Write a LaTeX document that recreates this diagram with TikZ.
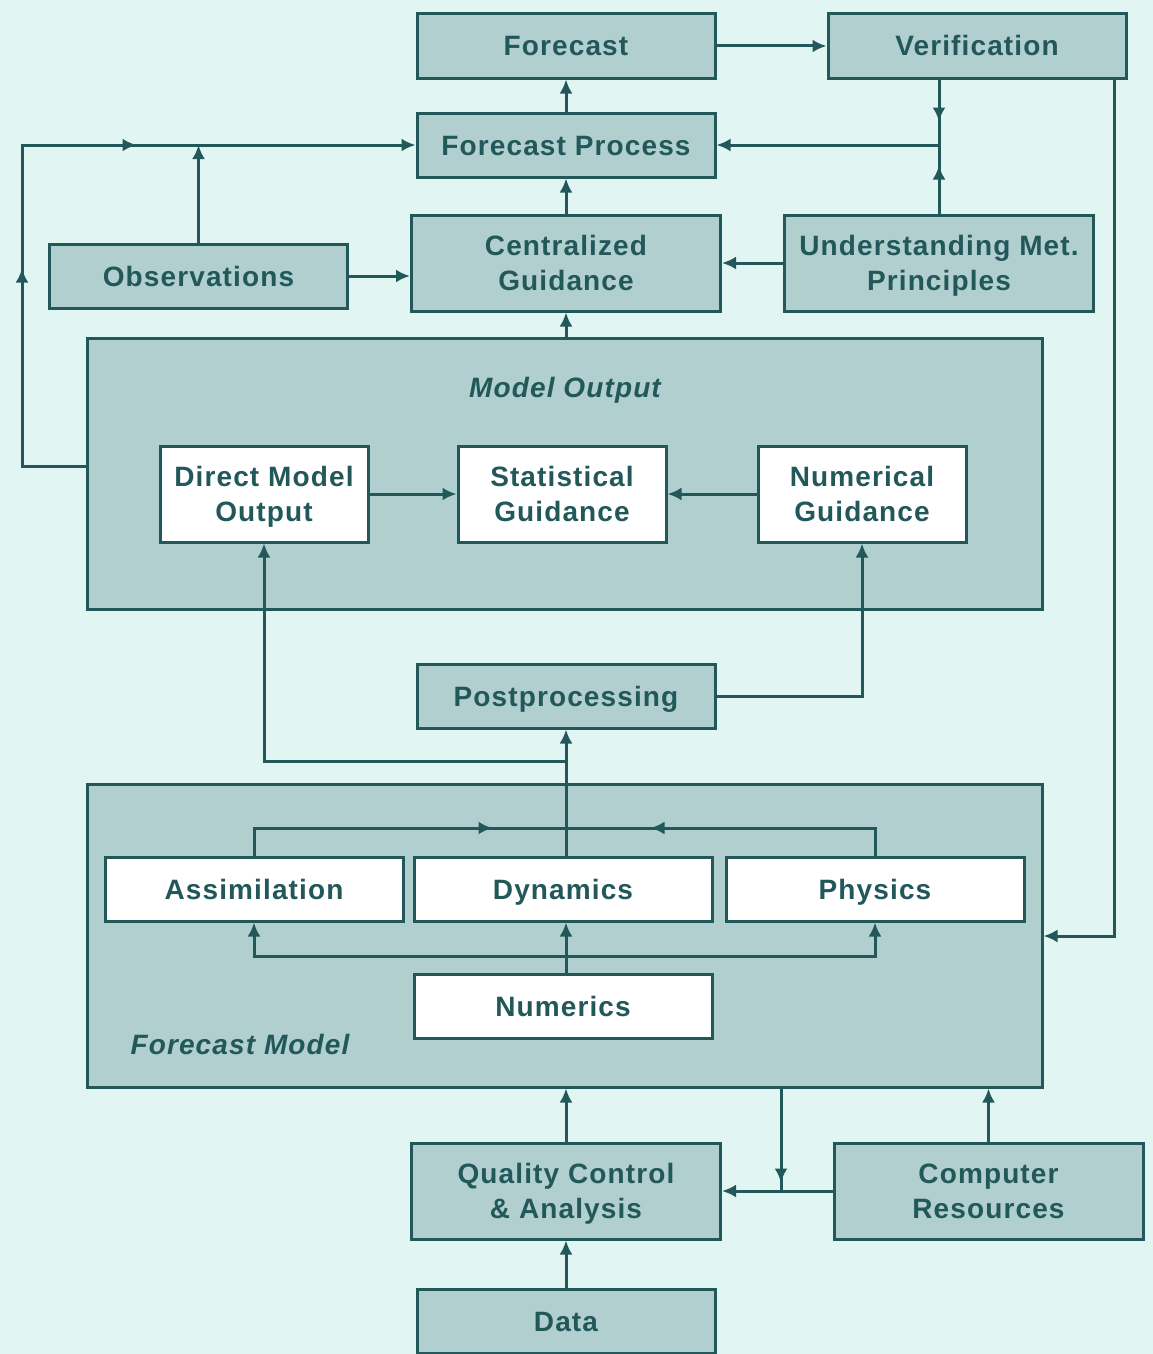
\documentclass[tikz,border=0pt]{standalone}
\usepackage{fontspec}
\setmainfont{Liberation Sans}[LetterSpace=4]
\usetikzlibrary{arrows.meta,decorations.markings}
\definecolor{bgcol}{HTML}{E1F5F3}
\definecolor{boxcol}{HTML}{B0CFCE}
\definecolor{linecol}{HTML}{23585A}

\begin{document}
\begin{tikzpicture}
[x=1pt,y=-1pt,>={Latex[length=14pt,width=13pt]},
 every node/.style={font=\fontsize{28}{35}\selectfont\bfseries,text=linecol},
 box/.style={draw=linecol,fill=boxcol,line width=3pt,align=center,inner sep=0pt,
   minimum width=298pt,minimum height=64pt},
 sbox/.style={box,text height=20pt,text depth=0pt},
 mbox/.style={box,text height=55pt,text depth=0pt,minimum height=96pt},
 tallbox/.style={mbox,minimum width=309pt},
 wbox/.style={mbox,fill=white,minimum width=208pt},
 bigbox/.style={box,minimum width=955pt},
 conn/.style={draw=linecol,line width=3pt},
 midarrow/.style={postaction={decorate,decoration={markings,
   mark=at position #1 with {\arrow{>}}}}}]
\useasboundingbox (0,0) rectangle (1153,1354);
\fill[bgcol] (0,0) rectangle (1153,1354);

% outer frames
\node[bigbox,minimum height=271pt] (mo) at (564.5,473.5) {};
\node[bigbox,minimum height=303pt] (fm) at (564.5,935.5) {};
\node[font=\fontsize{28}{35}\selectfont\bfseries\itshape] (molab) at (565,390) {Model Output};
\node[font=\fontsize{28}{35}\selectfont\bfseries\itshape] (fmlab) at (240,1044) {Forecast Model};

% boxes
\node[sbox] (fc) at (566,46) {Forecast};
\node[sbox] (ver) at (977,46) {Verification};
\node[sbox] (fp) at (566,145) {Forecast Process};
\node[tallbox] (cg) at (566,263) {Centralized\\Guidance};
\node[sbox] (obs) at (198.5,276) {Observations};
\node[tallbox] (ump) at (939,263) {Understanding Met.\\Principles};
\node[wbox] (dmo) at (264,494) {Direct Model\\Output};
\node[wbox] (sg) at (562,494) {Statistical\\Guidance};
\node[wbox] (ng) at (862,494) {Numerical\\Guidance};
\node[sbox] (pp) at (566,696) {Postprocessing};
\node[sbox,fill=white] (as) at (254,889) {Assimilation};
\node[sbox,fill=white] (dyn) at (563,889) {Dynamics};
\node[sbox,fill=white] (ph) at (875,889) {Physics};
\node[sbox,fill=white] (nu) at (563,1006) {Numerics};
\node[tallbox] (qc) at (566,1191) {Quality Control\\\& Analysis};
\node[tallbox] (cr) at (988.5,1191) {Computer\\Resources};
\node[sbox] (data) at (566,1321) {Data};

% junctions
\coordinate (vj) at (ump.north |- fp.east);
\coordinate (l1) at (22,466);
\coordinate (l2) at (l1 |- fp.west);
\coordinate (vr) at (1114,936);
\coordinate (bj) at (566,761);
\coordinate (tj) at (566,828);
\coordinate (nj) at (566,956);
\coordinate (fj) at (781,1191);

% connectors
\foreach \from/\to in {fc.east/ver.west,fp.north/fc.south,cg.north/fp.south,
  dmo.east/sg.west,ng.west/sg.east,data.north/qc.south,cr.west/qc.east,vj/fp.east}
  \draw[conn,->] (\from) -- (\to);
\draw[conn,->] (mo.north -| cg.south) -- (cg.south);
\draw[conn,->] (obs.east) -- (obs.east -| cg.west);
\draw[conn,->] (ump.west) -- (ump.west -| cg.east);
\draw[conn,midarrow=42pt] (ver.south -| vj) -- (vj);
\draw[conn,midarrow=48pt] (ump.north) -- (vj);
\draw[conn,->,midarrow=261pt,midarrow=499pt] (mo.west |- l1) -- (l1) -- (l2) -- (fp.west);
\draw[conn,->] (obs.north) -- (obs.north |- l2);
\draw[conn,->] (ver.south -| vr) -- (vr) -- (vr -| fm.east);
\draw[conn,->] (pp.east) -| (ng.south);
\draw[conn,->] (dyn.north -| pp.south) -- (pp.south);
\draw[conn,->] (bj) -| (dmo.south);
\draw[conn,midarrow=266pt] (as.north) |- (tj);
\draw[conn,midarrow=252pt] (ph.north) |- (tj);
\draw[conn,->] (nu.north -| nj) -- (dyn.south -| nj);
\draw[conn,->] (nj) -| (as.south);
\draw[conn,->] (nj) -| (ph.south);
\draw[conn,->] (qc.north) -- (qc.north |- fm.south);
\draw[conn,->] (cr.north) -- (cr.north |- fm.south);
\draw[conn,midarrow=94pt] (fm.south -| fj) -- (fj);
\end{tikzpicture}
\end{document}
